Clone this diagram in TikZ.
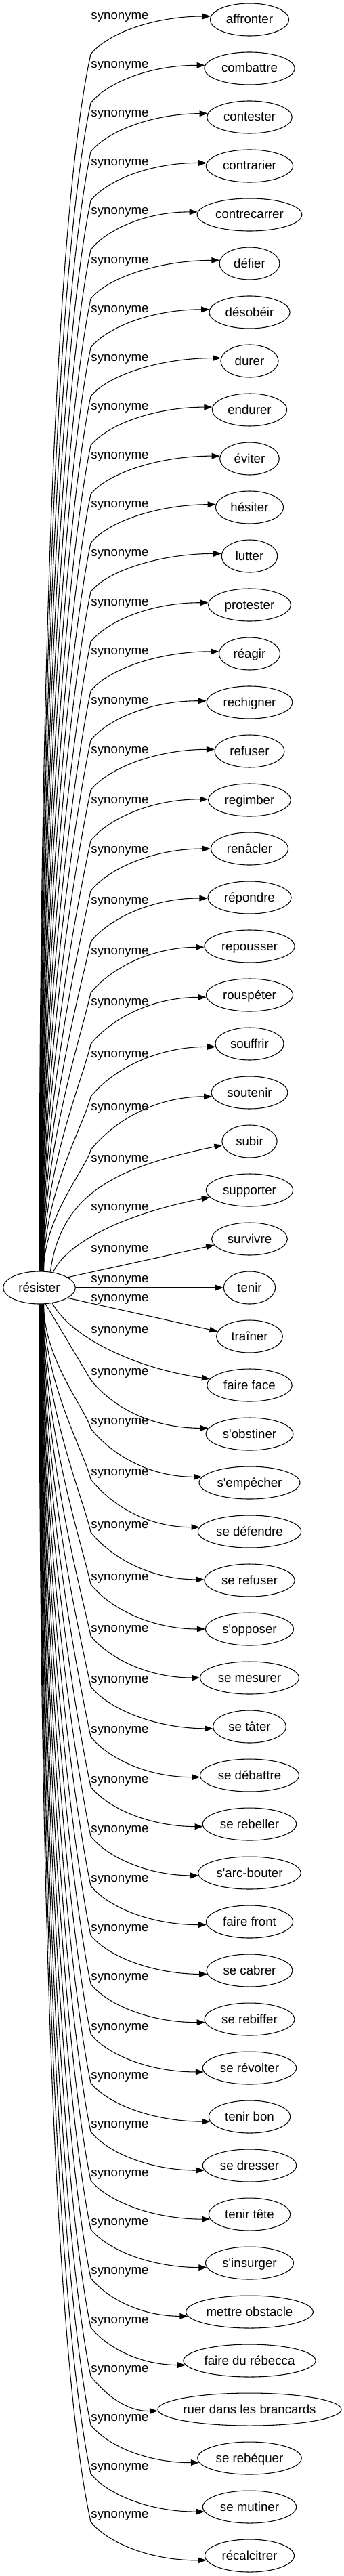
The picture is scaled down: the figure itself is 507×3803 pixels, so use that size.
\documentclass[tikz,border=0pt]{standalone}
\usepackage{fontspec}
\newfontfamily\gvfont{Liberation Sans}
\usetikzlibrary{arrows.meta,shapes.geometric}
\tikzset{
  tnode/.style={ellipse, draw, line width=0.8pt, inner xsep=-3pt, inner ysep=0pt,
    text height=10pt, text depth=1pt, minimum height=36pt,
    font=\gvfont\fontsize{14pt}{17pt}\selectfont},
  lbl/.style={inner sep=0pt, font=\gvfont\fontsize{14pt}{17pt}\selectfont},
  edge/.style={line width=0.8pt, -{Triangle[length=9pt,width=6.5pt]}},
}
\newcommand\mktarget[2]{%
  \pgfmathsetmacro\gvTW{width("#2")}%
  \pgfmathsetmacro\gvA{max(0.61*\gvTW+12,27)}%
  \pgfmathsetmacro\gvMW{2*\gvA}%
  \pgfmathsetmacro\gvTY{29+72*(#1-1)}%
  \node[tnode, minimum width=\gvMW pt] (t#1) at (368.5,\gvTY) {#2};%
  \expandafter\xdef\csname gvax#1\endcsname{\gvA}%
}
\newcommand\topedge[3]{%
  \pgfmathsetmacro\gvT{29+72*(#1-1)}%
  \pgfmathsetmacro\gvL{\gvT+(#2)}%
  \pgfmathsetmacro\gvB{\gvL+(#1<13 ? 55 : 55+0.6*(#1-12))}%
  \pgfmathsetmacro\gvYE{\gvT+(#3)}%
  \pgfmathsetmacro\gvDX{0.3*(#1-1)}%
  \pgfmathsetmacro\gvXS{58+\gvDX}%
  \pgfmathtruncatemacro\gvSA{round(atan2(24,\gvDX))}%
  \pgfmathsetmacro\gvD{1877-\gvB}%
  \pgfmathsetmacro\gvCAY{1877-0.45*\gvD}%
  \pgfmathsetmacro\gvCBX{134-(0.03*\gvD+1)}%
  \pgfmathsetmacro\gvCBY{\gvB+min(0.15*\gvD,250)}%
  \pgfmathsetmacro\gvH{\gvB-\gvYE}%
  \pgfmathsetmacro\gvCCX{134+0.47*\gvH}%
  \pgfmathsetmacro\gvCCY{\gvB-0.58*\gvH}%
  \pgfmathsetmacro\gvAX{\csname gvax#1\endcsname/0.75}%
  \pgfmathsetmacro\gvCDX{134+0.55*(368.5-\gvAX-134)}%
  \pgfmathtruncatemacro\gvEA{round(180+atan((#3)/\gvAX))}%
  \node[lbl] (l#1) at (177,\gvL) {synonyme};%
  \draw[edge] (res.\gvSA) .. controls (\gvXS,\gvCAY) and (\gvCBX,\gvCBY) .. (134,\gvB)
     .. controls (\gvCCX,\gvCCY) and (\gvCDX,\gvYE) .. (t#1.\gvEA);%
}
\newcommand\botedge[3]{%
  \pgfmathsetmacro\gvT{29+72*(#1-1)}%
  \pgfmathsetmacro\gvL{\gvT+(#2)}%
  \pgfmathsetmacro\gvB{\gvL+9}%
  \pgfmathsetmacro\gvYE{\gvT+(#3)}%
  \pgfmathsetmacro\gvDX{0.3*(53-#1)}%
  \pgfmathsetmacro\gvXS{58+\gvDX}%
  \pgfmathtruncatemacro\gvSA{round(360-atan2(24,\gvDX))}%
  \pgfmathsetmacro\gvD{\gvB-1925}%
  \pgfmathsetmacro\gvCAY{1925+0.45*\gvD}%
  \pgfmathsetmacro\gvCBX{134-(0.03*\gvD+1)}%
  \pgfmathsetmacro\gvCBY{\gvB-min(0.15*\gvD,250)}%
  \pgfmathsetmacro\gvH{\gvYE-\gvB}%
  \pgfmathsetmacro\gvCCX{134+0.47*\gvH}%
  \pgfmathsetmacro\gvCCY{\gvB+0.58*\gvH}%
  \pgfmathsetmacro\gvAX{\csname gvax#1\endcsname/0.75}%
  \pgfmathsetmacro\gvCDX{134+0.55*(368.5-\gvAX-134)}%
  \pgfmathtruncatemacro\gvEA{round(180+atan((#3)/\gvAX))}%
  \node[lbl] (l#1) at (177,\gvL) {synonyme};%
  \draw[edge] (res.\gvSA) .. controls (\gvXS,\gvCAY) and (\gvCBX,\gvCBY) .. (134,\gvB)
     .. controls (\gvCCX,\gvCCY) and (\gvCDX,\gvYE) .. (t#1.\gvEA);%
}
\begin{document}
\begin{tikzpicture}[x=0.75pt,y=-0.75pt]
\gvfont\fontsize{14pt}{17pt}\selectfont
\useasboundingbox (0,0) rectangle (507,3803);
\fill[white] (0,0) rectangle (507,3803);
% source node
\pgfmathsetmacro\gvTW{width("résister")}%
\pgfmathsetmacro\gvRW{2*max(0.61*\gvTW+12,27)}%
\node[tnode, minimum width=\gvRW pt] (res) at (58,1901) {résister};
% targets
\mktarget{1}{affronter}
\mktarget{2}{combattre}
\mktarget{3}{contester}
\mktarget{4}{contrarier}
\mktarget{5}{contrecarrer}
\mktarget{6}{défier}
\mktarget{7}{désobéir}
\mktarget{8}{durer}
\mktarget{9}{endurer}
\mktarget{10}{éviter}
\mktarget{11}{hésiter}
\mktarget{12}{lutter}
\mktarget{13}{protester}
\mktarget{14}{réagir}
\mktarget{15}{rechigner}
\mktarget{16}{refuser}
\mktarget{17}{regimber}
\mktarget{18}{renâcler}
\mktarget{19}{répondre}
\mktarget{20}{repousser}
\mktarget{21}{rouspéter}
\mktarget{22}{souffrir}
\mktarget{23}{soutenir}
\mktarget{24}{subir}
\mktarget{25}{supporter}
\mktarget{26}{survivre}
\mktarget{27}{tenir}
\mktarget{28}{traîner}
\mktarget{29}{faire face}
\mktarget{30}{s'obstiner}
\mktarget{31}{s'empêcher}
\mktarget{32}{se défendre}
\mktarget{33}{se refuser}
\mktarget{34}{s'opposer}
\mktarget{35}{se mesurer}
\mktarget{36}{se tâter}
\mktarget{37}{se débattre}
\mktarget{38}{se rebeller}
\mktarget{39}{s'arc-bouter}
\mktarget{40}{faire front}
\mktarget{41}{se cabrer}
\mktarget{42}{se rebiffer}
\mktarget{43}{se révolter}
\mktarget{44}{tenir bon}
\mktarget{45}{se dresser}
\mktarget{46}{tenir tête}
\mktarget{47}{s'insurger}
\mktarget{48}{mettre obstacle}
\mktarget{49}{faire du rébecca}
\mktarget{50}{ruer dans les brancards}
\mktarget{51}{se rebéquer}
\mktarget{52}{se mutiner}
\mktarget{53}{récalcitrer}
% upper edges
\topedge{1}{-4}{-5}
\topedge{2}{-4}{-5}
\topedge{3}{-4}{-5}
\topedge{4}{-4}{-5}
\topedge{5}{-3.5}{-4.5}
\topedge{6}{-3}{-4.5}
\topedge{7}{-3}{-4.3}
\topedge{8}{-3}{-4.3}
\topedge{9}{-2.5}{-4}
\topedge{10}{-2.5}{-4}
\topedge{11}{-2.5}{-4}
\topedge{12}{-2.5}{-3.7}
\topedge{13}{-1.2}{-3.7}
\topedge{14}{-1.2}{-3.3}
\topedge{15}{-1}{-2.6}
\topedge{16}{0}{-2.6}
\topedge{17}{2}{-1.5}
\topedge{18}{3.5}{0}
\topedge{19}{6}{0.7}
\topedge{20}{9}{1.7}
\topedge{21}{12}{3.3}
\topedge{22}{17}{4}
\topedge{23}{23}{6}
% middle edges
\node[lbl] (l24) at (177,1712) {synonyme};
\draw[edge] (res.55) .. controls (90,1760) and (175,1722) .. (t24.188);
\node[lbl] (l25) at (177,1784) {synonyme};
\draw[edge] (res.48) .. controls (95,1840) and (170,1795) .. (t25.190);
\node[lbl] (l26) at (177,1845) {synonyme};
\draw[edge] (res.20) -- (t26.190);
\node[lbl] (l27) at (177,1890) {synonyme};
\draw[edge] (res) -- (t27);
\node[lbl] (l28) at (177,1918) {synonyme};
\draw[edge] (res.340) -- (t28.171);
\node[lbl] (l29) at (177,1965) {synonyme};
\draw[edge] (res.310) .. controls (105,1975) and (200,2020) .. (t29.171);
\node[lbl] (l30) at (177,2027) {synonyme};
\draw[edge] (res.291) -- (134,2037) .. controls (167,2078) and (223,2108) .. (t30.172);
% lower edges
\botedge{31}{-89}{-9}
\botedge{32}{-86}{-6}
\botedge{33}{-80}{-1}
\botedge{34}{-75}{0}
\botedge{35}{-71}{0}
\botedge{36}{-68}{2.5}
\botedge{37}{-66}{3}
\botedge{38}{-64}{3.5}
\botedge{39}{-63}{3.5}
\botedge{40}{-62}{5}
\botedge{41}{-61}{5}
\botedge{42}{-61}{5}
\botedge{43}{-59}{6}
\botedge{44}{-59}{7}
\botedge{45}{-59}{7}
\botedge{46}{-59}{7}
\botedge{47}{-59}{6.5}
\botedge{48}{-59}{6.2}
\botedge{49}{-58}{6.2}
\botedge{50}{-58}{3}
\botedge{51}{-58}{7}
\botedge{52}{-58}{7.3}
\botedge{53}{-59}{7.3}
\end{tikzpicture}
\end{document}
